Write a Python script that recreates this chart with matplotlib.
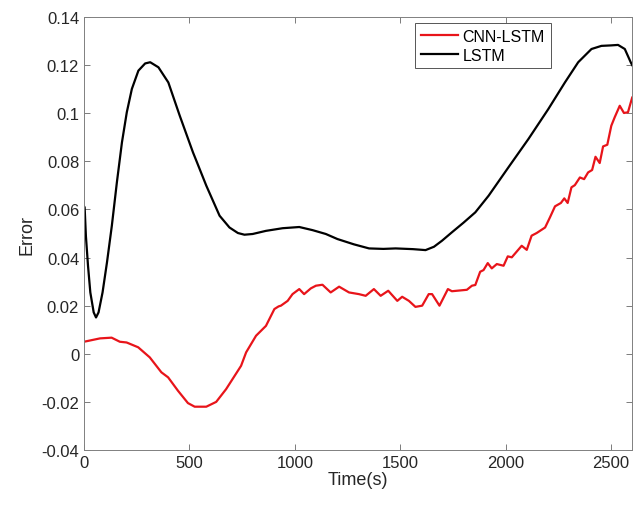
import matplotlib
matplotlib.use("Agg")
import matplotlib.pyplot as plt

# values
cnn_t = [0, 76, 131, 170, 202, 257, 312, 367, 399, 446, 493, 525, 580, 627, 674, 745, 769,
         816, 863, 903, 923, 934, 966, 989, 1021, 1044, 1076, 1100, 1131, 1170, 1210, 1257,
         1304, 1336, 1375, 1407, 1443, 1486, 1509, 1541, 1572, 1604, 1635, 1651, 1686, 1726,
         1745, 1816, 1840, 1856, 1879, 1895, 1915, 1934, 1958, 1990, 2010, 2029, 2076, 2100,
         2123, 2147, 2187, 2210, 2234, 2262, 2278, 2294, 2312, 2328, 2352, 2372, 2391, 2410,
         2426, 2446, 2462, 2482, 2501, 2517, 2541, 2561, 2580, 2600]
cnn_err = [0.0050, 0.0064, 0.0067, 0.0050, 0.0047, 0.0027, -0.0015, -0.0077, -0.0098, -0.0154,
           -0.0205, -0.0220, -0.0220, -0.0200, -0.0147, -0.0050, 0.0006, 0.0075, 0.0116, 0.0186,
           0.0197, 0.0200, 0.0220, 0.0248, 0.0269, 0.0248, 0.0272, 0.0283, 0.0287, 0.0255,
           0.0279, 0.0255, 0.0248, 0.0241, 0.0269, 0.0241, 0.0262, 0.0220, 0.0237, 0.0220,
           0.0195, 0.0200, 0.0248, 0.0248, 0.0200, 0.0269, 0.0260, 0.0266, 0.0283, 0.0286,
           0.0341, 0.0348, 0.0377, 0.0355, 0.0373, 0.0366, 0.0405, 0.0401, 0.0449, 0.0432,
           0.0491, 0.0502, 0.0525, 0.0567, 0.0613, 0.0627, 0.0646, 0.0627, 0.0692, 0.0701,
           0.0733, 0.0726, 0.0754, 0.0764, 0.0819, 0.0793, 0.0862, 0.0869, 0.0948, 0.0983,
           0.1031, 0.1001, 0.1004, 0.1065]

lstm_t = [0, 3, 9, 19, 30, 46, 57, 69, 88, 109, 132, 156, 180, 203, 227, 258, 290, 314, 353,
          400, 454, 517, 534, 580, 643, 690, 730, 761, 800, 863, 942, 1021,
          1084, 1147, 1202, 1280, 1352, 1420, 1478, 1560, 1620, 1660, 1698, 1745, 1800, 1856,
          1919, 2013, 2108, 2202, 2281, 2344, 2407, 2454, 2500, 2533, 2565, 2593, 2600]
lstm_err = [0.0613, 0.0609, 0.0490, 0.0366, 0.0255, 0.0172, 0.0151, 0.0172, 0.0255, 0.0380,
            0.0532, 0.0713, 0.0879, 0.1004, 0.1101, 0.1177, 0.1207, 0.1212, 0.1191, 0.1128,
            0.0990, 0.0837, 0.0800, 0.0699, 0.0574, 0.0525, 0.0502,
            0.0495, 0.0498, 0.0511, 0.0522, 0.0527, 0.0514, 0.0498, 0.0477, 0.0455, 0.0438,
            0.0436, 0.0438, 0.0435, 0.0431, 0.0445, 0.0470, 0.0505, 0.0545, 0.0588, 0.0657,
            0.0775, 0.0893, 0.1017, 0.1128, 0.1212, 0.1267, 0.1280, 0.1282, 0.1284, 0.1267,
            0.1212, 0.1200]

x_ticks = [0, 500, 1000, 1500, 2000, 2500]
y_ticks = [-0.04, -0.02, 0, 0.02, 0.04, 0.06, 0.08, 0.1, 0.12, 0.14]
y_labels = ["-0.04", "-0.02", "0", "0.02", "0.04", "0.06", "0.08", "0.1", "0.12", "0.14"]

plt.rcParams["font.family"] = ["Liberation Sans", "DejaVu Sans"]

fig = plt.figure(figsize=(6.33, 5.06), dpi=100)
ax = fig.add_axes([0.1327, 0.1087, 0.866, 0.8557])

ax.plot(cnn_t, cnn_err, color="#e8141a", linewidth=1.6, label="CNN-LSTM")
ax.plot(lstm_t, lstm_err, color="black", linewidth=1.6, label="LSTM")

ax.set_xlim(0, 2600)
ax.set_ylim(-0.04, 0.14)
ax.set_xticks(x_ticks)
ax.set_yticks(y_ticks)
ax.set_yticklabels(y_labels)
ax.tick_params(direction="in", top=True, right=True, length=4, width=0.6,
               colors="#666666", labelcolor="#262626", labelsize=12)
for s in ax.spines.values():
    s.set_color("#808080")
    s.set_linewidth(0.7)

ax.set_xlabel("Time(s)", fontsize=13, color="#262626", labelpad=1)
ax.set_ylabel("Error", fontsize=13, color="#262626", labelpad=4)

leg = ax.legend(loc="upper left", bbox_to_anchor=(0.6047, 0.986), fontsize=11.5,
                frameon=True, fancybox=False, edgecolor="#555555", framealpha=1,
                handlelength=2.3, handletextpad=0.3, borderpad=0.35, labelspacing=0.25,
                borderaxespad=0)
leg.get_frame().set_linewidth(0.7)

fig.savefig("out.png", dpi=100)
